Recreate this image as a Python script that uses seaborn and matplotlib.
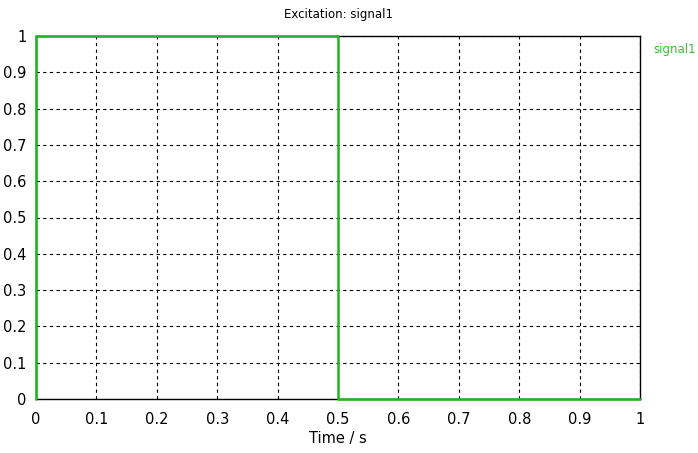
import numpy as np
import pandas as pd
import seaborn as sns
import matplotlib
matplotlib.use("Agg")
import matplotlib.pyplot as plt

# step excitation signal
time = [0.0, 0.0, 0.5, 0.5, 1.0]
signal1 = [0.0, 1.0, 1.0, 0.0, 0.0]
x_ticks = [0, 0.1, 0.2, 0.3, 0.4, 0.5, 0.6, 0.7, 0.8, 0.9, 1]
y_ticks = [0, 0.1, 0.2, 0.3, 0.4, 0.5, 0.6, 0.7, 0.8, 0.9, 1]

data = pd.DataFrame({"time": time, "signal1": signal1})

sns.set_theme(style="white")
plt.rcParams["font.family"] = ["DejaVu Sans"]

green = "#22b422"

fig = plt.figure(figsize=(6.98, 4.53), dpi=100)
ax = fig.add_axes([36 / 698, 1 - 399 / 453, 604 / 698, 363 / 453])

sns.lineplot(data=data, x="time", y="signal1", sort=False, estimator=None,
             color=green, linewidth=1.8, ax=ax, zorder=5, clip_on=False)

ax.set_xlim(0, 1)
ax.set_ylim(0, 1)
ax.set_xticks(x_ticks)
ax.set_yticks(y_ticks)
ax.set_xticklabels([f"{t:g}" for t in x_ticks])
ax.set_yticklabels([f"{t:g}" for t in y_ticks])
ax.tick_params(axis="both", direction="out", length=3, width=0.8,
               color="black", labelsize=10.5, labelcolor="black")
ax.tick_params(axis="x", pad=6)
ax.tick_params(axis="y", pad=4)
ax.grid(True, color="black", linestyle=(0, (3, 3)), linewidth=0.8)
for sp in ax.spines.values():
    sp.set_color("black")
    sp.set_linewidth(1.0)

ax.set_xlabel("Time / s", fontsize=10.5, color="black", labelpad=3)
ax.set_ylabel("")
ax.set_title("Excitation: signal1", fontsize=8.5, color="black", pad=13)

fig.text(653 / 698, 1 - 50 / 453, "signal1", color="#33c433", fontsize=8.5,
         va="center", ha="left")

fig.savefig("out.png", dpi=100)
